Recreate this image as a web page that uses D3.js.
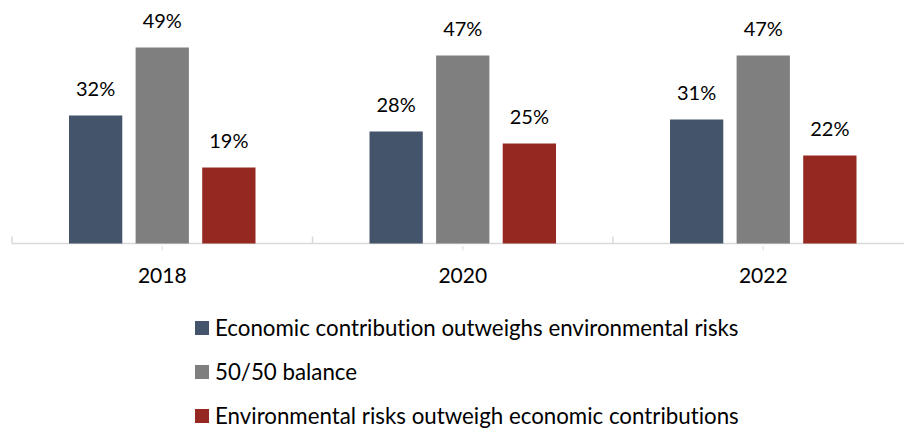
<!DOCTYPE html>
<html><head><meta charset="utf-8">
<script src="https://cdn.jsdelivr.net/npm/d3@7/dist/d3.min.js"></script>
<style>body{margin:0;background:#fff}svg{display:block}text{font-family:Lato,"Noto Sans",sans-serif;fill:#000;font-variant-ligatures:none}</style>
</head><body>
<svg id="c" width="904" height="429"></svg>
<script>
const years = ["2018", "2020", "2022"];
const seriesNames = [
  "Economic contribution outweighs environmental risks",
  "50/50 balance",
  "Environmental risks outweigh economic contributions"
];
const economic = [32, 28, 31];
const balance = [49, 47, 47];
const environmental = [19, 25, 22];
const colors = ["#44546a", "#7f7f7f", "#952821"];
const seriesValues = [economic, balance, environmental];

const svg = d3.select("#c");
const x0 = d3.scaleBand().domain(years).range([12, 913.5]).padding(0);
const x1 = d3.scaleBand().domain(d3.range(3)).range([57, 243.5]).paddingInner(0.2).paddingOuter(0);
const y = d3.scaleLinear().domain([0, 60]).range([243.5, 3.5]);

// axis
const axisG = svg.append("g");
axisG.append("line").attr("x1", 12).attr("x2", 904).attr("y1", y(0)).attr("y2", y(0))
  .attr("stroke", "#d9d9d9").attr("stroke-width", 1.5);
const bounds = years.map(d => x0(d)).concat([x0(years[years.length-1]) + x0.bandwidth()]);
axisG.selectAll(".tb").data(bounds).join("line")
  .attr("x1", d => d).attr("x2", d => d).attr("y1", y(0) - 7).attr("y2", y(0))
  .attr("stroke", "#d9d9d9").attr("stroke-width", 1.5);
axisG.selectAll(".tc").data(years).join("line")
  .attr("x1", d => x0(d) + x0.bandwidth()/2).attr("x2", d => x0(d) + x0.bandwidth()/2)
  .attr("y1", y(0) + 2.5).attr("y2", y(0) + 7)
  .attr("stroke", "#e6e6e6").attr("stroke-width", 1.5);

// year labels
svg.selectAll(".yl").data(years).join("text")
  .attr("x", d => x0(d) + x0.bandwidth()/2).attr("y", 283)
  .attr("text-anchor", "middle").style("font-size", "21px").text(d => d);

// bars
const groups = svg.selectAll(".g").data(years).join("g")
  .attr("transform", d => `translate(${x0(d)},0)`);
groups.each(function(yr, i) {
  const g = d3.select(this);
  const vals = seriesValues.map((s, k) => ({k, v: s[i]}));
  g.selectAll("rect").data(vals).join("rect")
    .attr("x", d => x1(d.k)).attr("width", x1.bandwidth())
    .attr("y", d => y(d.v)).attr("height", d => y(0) - y(d.v))
    .attr("fill", d => colors[d.k]);
  g.selectAll("text").data(vals).join("text")
    .attr("x", d => x1(d.k) + x1.bandwidth()/2).attr("y", d => y(d.v) - 20)
    .attr("text-anchor", "middle").style("font-size", "20px").text(d => d.v + "%");
});

// legend
const leg = svg.selectAll(".lg").data(seriesNames).join("g")
  .attr("transform", (d, i) => `translate(195,${321 + i*44})`);
leg.append("rect").attr("width", 14).attr("height", 14).attr("fill", (d, i) => colors[i]);
leg.append("text").attr("x", 20).attr("y", 14.5).style("font-size", "22.3px").text(d => d);
</script>
</body></html>
